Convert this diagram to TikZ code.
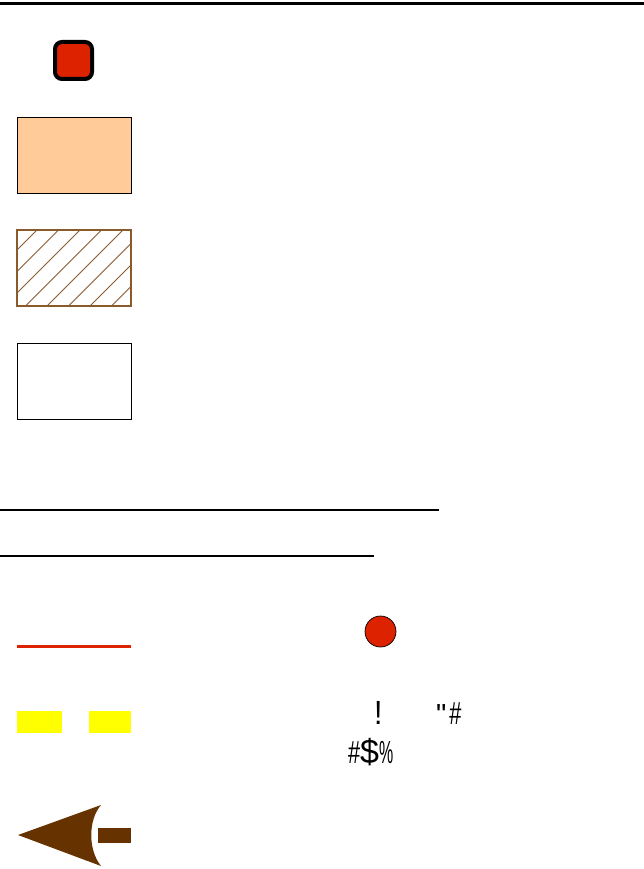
\documentclass[tikz,border=0pt]{standalone}
\usepackage{fontspec}
\setmainfont{Liberation Sans}[Ligatures=TeXOff]
\definecolor{redfill}{HTML}{DD2200}
\definecolor{peach}{HTML}{FFCC99}
\definecolor{hatchbrown}{HTML}{8B5A2B}
\definecolor{arrowbrown}{HTML}{663300}
\definecolor{hiyellow}{HTML}{FFFF00}
\begin{document}
\begin{tikzpicture}[x=1pt,y=-1pt,
  rule/.style={line width=2.5pt,black},
  legendbox/.style={draw=black,line width=0.9pt},
  glyphs/.style={inner sep=0pt,outer sep=0pt,text=black}]
\useasboundingbox (0,0) rectangle (644,869);
% rules
\draw[rule] (0,3.3) -- (644,3.3);
\draw[rule] (0,510) -- (439,510);
\draw[rule] (0,556) -- (374,556);
% red rounded square
\draw[fill=redfill,draw=black,line width=4pt,rounded corners=7pt] (55,42) rectangle (92,79);
% peach box
\draw[legendbox,fill=peach] (17,117) rectangle (131,193);
% hatched box
\begin{scope}
  \clip (17,230) rectangle (131,306);
  \foreach \k in {0,...,8} {
    \pgfmathsetmacro{\c}{267+21.5*\k}
    \draw[hatchbrown,line width=0.9pt] (\c-400,400) -- (\c-150,150);
  }
\end{scope}
\draw[hatchbrown,line width=2pt] (17,230) rectangle (131,306);
% white box
\draw[legendbox,fill=white] (17,343.5) rectangle (131,419);
% red line
\draw[redfill,line width=3pt] (17,646) -- (131,646);
% red circle
\node[circle,draw=black,line width=0.7pt,fill=redfill,minimum size=31pt,inner sep=0pt] (dot) at (380.5,631.5) {};
% yellow rectangles
\fill[hiyellow] (17,711) rectangle (62,733);
\fill[hiyellow] (89,711) rectangle (131,733);
% brown arrow
\fill[arrowbrown] (18,835) -- (101,805) .. controls (88,820) and (88,850) .. (101,866) -- cycle;
\fill[arrowbrown] (98,828) rectangle (131,843);
% glyph texts
\node[glyphs,anchor=base] (t1) at (378.4,724) {\scalebox{0.9}[1]{\fontsize{33.5}{33.5}\selectfont !}};
\node[glyphs,anchor=base west] (t2) at (436,724) {\fontsize{29}{29}\selectfont "\hspace{3pt}\scalebox{0.75}[1.1]{\#}};
\node[glyphs,anchor=base west] (t3) at (348,763) {\fontsize{29}{29}\selectfont\scalebox{0.75}[1.1]{\#}{\fontsize{34}{34}\selectfont\$}\scalebox{0.55}[1.1]{\%}};
\end{tikzpicture}
\end{document}
